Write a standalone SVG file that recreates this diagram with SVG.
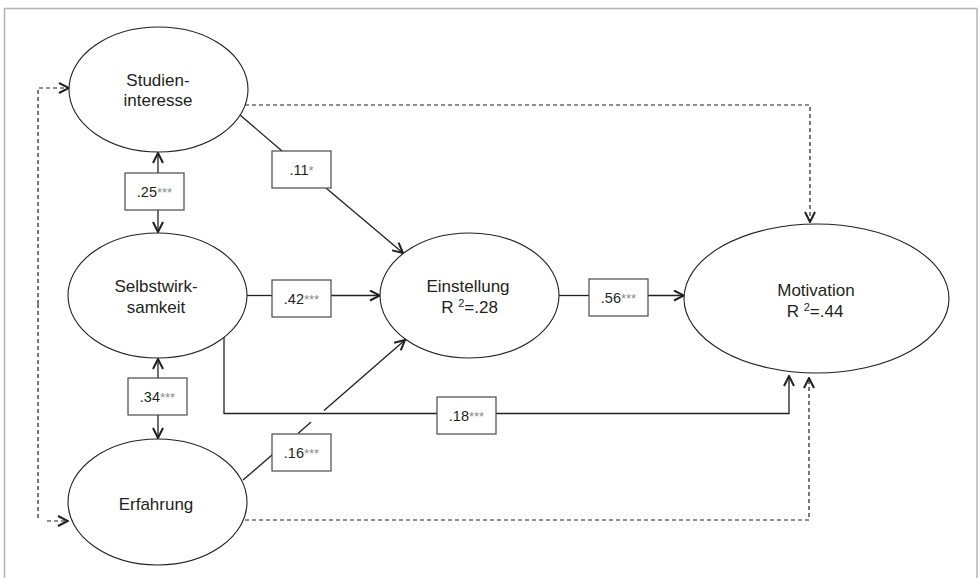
<svg xmlns="http://www.w3.org/2000/svg" width="980" height="578" viewBox="0 0 980 578">
<style>
.frame{fill:none;stroke:#b4b4b4;stroke-width:1.5}
.node ellipse{fill:#fff;stroke:#231f20;stroke-width:1.1}
.lbl{font-family:"Liberation Sans",Arial,sans-serif;font-size:17px;fill:#231f20;text-anchor:middle}
.sup{font-size:11px}
.box rect{fill:#fff;stroke:#4a4a4a;stroke-width:1.2}
.box text{font-family:"Liberation Sans",Arial,sans-serif;font-size:14.5px;fill:#231f20;text-anchor:middle}
.ast{font-size:13px;fill:#8a8a8a}
.ln{fill:none;stroke:#231f20;stroke-width:1.3}
.dash{fill:none;stroke:#231f20;stroke-width:1.2;stroke-dasharray:4 3}
</style>
<defs>
<marker id="arr" viewBox="0 0 12 12" refX="11" refY="6" markerWidth="12" markerHeight="12" markerUnits="userSpaceOnUse" orient="auto">
<path d="M1,1 L11,6 L1,11" fill="none" stroke="#231f20" stroke-width="2" stroke-dasharray="none"/>
</marker>
</defs>
<rect class="frame" x="4.5" y="8.5" width="972.5" height="580"/>
<g id="connectors">
<path class="ln" d="M158,173 V153" marker-end="url(#arr)"/>
<path class="ln" d="M158,210 V232" marker-end="url(#arr)"/>
<path class="ln" d="M158,378 V359" marker-end="url(#arr)"/>
<path class="ln" d="M158,415 V438" marker-end="url(#arr)"/>
<path class="ln" d="M240,115 L282,151"/>
<path class="ln" d="M326,188 L403,253" marker-end="url(#arr)"/>
<path class="ln" d="M247,295.5 H272"/>
<path class="ln" d="M331,295.5 H380" marker-end="url(#arr)"/>
<path class="ln" d="M243,480 L272,455"/>
<path class="ln" d="M298,433.5 L311,422"/>
<path class="ln" d="M324,410.5 L405,340" marker-end="url(#arr)"/>
<path class="ln" d="M559,295.5 H589"/>
<path class="ln" d="M648,295.5 H684" marker-end="url(#arr)"/>
<path class="ln" d="M224,337 V413.5 H437"/>
<path class="ln" d="M496,413.5 H789 V376" marker-end="url(#arr)"/>
<path class="dash" d="M245,105 H810 V222" marker-end="url(#arr)"/>
<path class="dash" d="M245,520 H809 V378" marker-end="url(#arr)"/>
<path class="dash" d="M38,304 V88 H69" marker-end="url(#arr)"/>
<path class="dash" d="M38,304 V518"/>
<path class="dash" d="M47,521 H68" marker-end="url(#arr)"/>
</g>
<g id="studieninteresse" class="node">
<ellipse cx="158.5" cy="89.5" rx="89.5" ry="62.5"/>
<text class="lbl" x="158" y="86">Studien-</text>
<text class="lbl" x="158" y="106">interesse</text>
</g>
<g id="selbstwirksamkeit" class="node">
<ellipse cx="157.5" cy="295.5" rx="89.5" ry="62.5"/>
<text class="lbl" x="156" y="292">Selbstwirk-</text>
<text class="lbl" x="156" y="313">samkeit</text>
</g>
<g id="erfahrung" class="node">
<ellipse cx="157.5" cy="502" rx="89.5" ry="63"/>
<text class="lbl" x="156" y="510">Erfahrung</text>
</g>
<g id="einstellung" class="node">
<ellipse cx="469.5" cy="295.5" rx="89.5" ry="62.5"/>
<text class="lbl" x="468" y="292">Einstellung</text>
<text class="lbl" x="469.5" y="313">R <tspan class="sup" dy="-6">2</tspan><tspan dy="6">=.28</tspan></text>
</g>
<g id="motivation" class="node">
<ellipse cx="816.5" cy="298.5" rx="132.5" ry="74.5"/>
<text class="lbl" x="816" y="296">Motivation</text>
<text class="lbl" x="815" y="317">R <tspan class="sup" dy="-6">2</tspan><tspan dy="6">=.44</tspan></text>
</g>
<g id="label-25" class="box">
<rect x="125" y="173" width="59" height="37"/>
<text x="154.5" y="197">.25<tspan class="ast">***</tspan></text>
</g>
<g id="label-34" class="box">
<rect x="128" y="378" width="59" height="37"/>
<text x="157.5" y="402">.34<tspan class="ast">***</tspan></text>
</g>
<g id="label-11" class="box">
<rect x="272" y="151" width="59" height="37"/>
<text x="301.5" y="175">.11<tspan class="ast">*</tspan></text>
</g>
<g id="label-42" class="box">
<rect x="272" y="280" width="59" height="37"/>
<text x="301.5" y="304">.42<tspan class="ast">***</tspan></text>
</g>
<g id="label-16" class="box">
<rect x="272" y="434" width="59" height="37"/>
<text x="301.5" y="458">.16<tspan class="ast">***</tspan></text>
</g>
<g id="label-56" class="box">
<rect x="589" y="279" width="59" height="37"/>
<text x="618.5" y="303">.56<tspan class="ast">***</tspan></text>
</g>
<g id="label-18" class="box">
<rect x="437" y="397" width="59" height="37"/>
<text x="466.5" y="421">.18<tspan class="ast">***</tspan></text>
</g>
</svg>
